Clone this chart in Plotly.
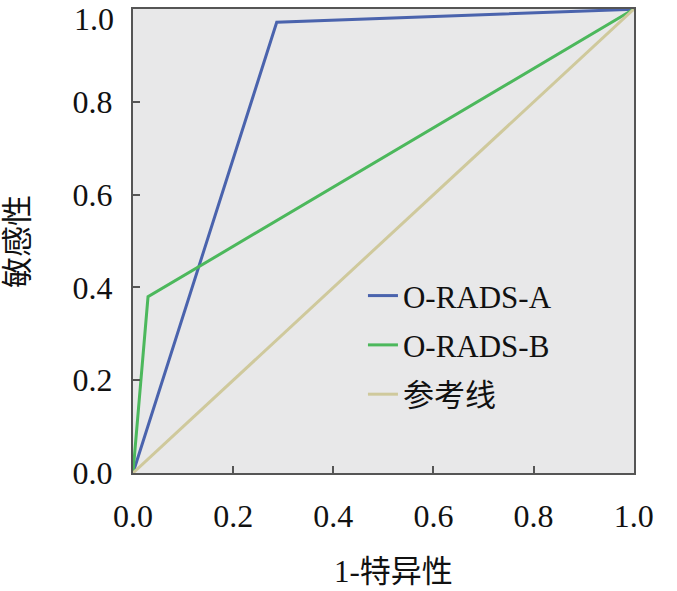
import plotly.graph_objects as go

# ROC curve points
a_fpr = [0.0, 0.287, 1.0]
a_tpr = [0.0, 0.972, 1.0]
b_fpr = [0.0, 0.030, 1.0]
b_tpr = [0.0, 0.380, 1.0]
ref_x = [0.0, 1.0]
ref_y = [0.0, 1.0]
names = ["O-RADS-A", "O-RADS-B", "参考线"]
colors = ["#4a63ad", "#4cb85c", "#cfc99c"]
ticks = [0.0, 0.2, 0.4, 0.6, 0.8, 1.0]
ticktext = ["0.0", "0.2", "0.4", "0.6", "0.8", "1.0"]

font = "'Liberation Serif', 'Times New Roman', 'DejaVu Serif', 'Noto Sans CJK SC', serif"

fig = go.Figure()
for xs, ys, nm, c in zip([a_fpr, b_fpr, ref_x], [a_tpr, b_tpr, ref_y], names, colors):
    fig.add_trace(go.Scatter(x=xs, y=ys, mode="lines", name=nm, legendgroup=nm,
                             line=dict(color=c, width=3)))

axis = dict(range=[0, 1.0005], tickvals=ticks, ticks="inside",
            ticklen=7, tickwidth=1.5, tickcolor="#555555", showgrid=False,
            zeroline=False, showline=True, linecolor="#555555", linewidth=2,
            mirror=True, automargin=False,
            tickfont=dict(size=32, color="#111111", family=font))

# top y label would overflow the page, so it is drawn as an annotation nudged down
fig.update_layout(
    width=677, height=591,
    margin=dict(l=133, r=43, t=9, b=118),
    paper_bgcolor="white", plot_bgcolor="#e8e8e9",
    font=dict(family=font, color="#111111"),
    xaxis=dict(axis, ticktext=ticktext, ticklabelstandoff=14),
    yaxis=dict(axis, ticktext=ticktext[:-1] + [""], ticklabelstandoff=12),
    legend=dict(x=0.459, y=0.276, xanchor="left", yanchor="middle",
                bgcolor="rgba(0,0,0,0)", font=dict(size=31),
                tracegroupgap=6, itemwidth=30),
    showlegend=True,
    annotations=[
        dict(text=ticktext[-1], xref="paper", yref="y", x=0, y=ticks[-1],
             xanchor="right", yanchor="middle", xshift=-17, yshift=-10,
             showarrow=False, font=dict(size=32)),
        dict(text="1-特异性", xref="paper", yref="paper", x=0.519, y=-0.213,
             xanchor="center", yanchor="middle", showarrow=False,
             font=dict(size=31)),
        dict(text="敏感性", xref="paper", yref="paper", x=-0.2295, y=0.498,
             xanchor="center", yanchor="middle", showarrow=False, textangle=-90,
             font=dict(size=31)),
    ],
)

# drop the default page margin so the figure sits at the window's corner
fig.write_html("out.html", config={"displayModeBar": False},
               post_script="document.body.style.margin='0';")
